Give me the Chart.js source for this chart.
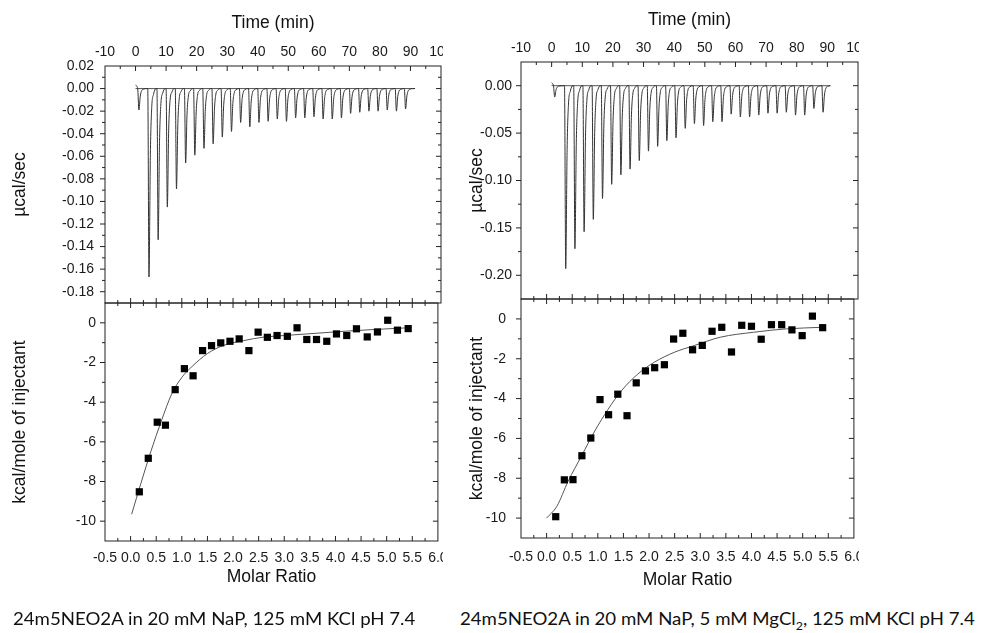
<!DOCTYPE html>
<html>
<head>
<meta charset="utf-8">
<script src="https://cdn.jsdelivr.net/npm/chart.js@4.4.1/dist/chart.umd.min.js"></script>
<style>
  body { margin: 0; background: #fff; width: 984px; height: 633px; overflow: hidden; position: relative; }
  canvas { position: absolute; }
  .cap { position: absolute; white-space: nowrap; font-family: Lato, 'Open Sans', sans-serif; font-size: 18px; color: #111; transform-origin: 0 50%; }
  .cap sub { font-size: 12px; }
</style>
</head>
<body>
<canvas id="lt" width="443" height="304" style="left:0;top:0"></canvas>
<canvas id="lb" width="443" height="297" style="left:0;top:295px"></canvas>
<canvas id="rt" width="413" height="300" style="left:446px;top:0"></canvas>
<canvas id="rb" width="413" height="302" style="left:446px;top:291px"></canvas>
<div class="cap" id="capL" style="left:13px;top:607px">24m5NEO2A in 20 mM NaP, 125 mM KCl pH 7.4</div>
<div class="cap" id="capR" style="left:460px;top:607px">24m5NEO2A in 20 mM NaP, 5 mM MgCl<sub>2</sub>, 125 mM KCl pH 7.4</div>
<script>
// tick labels
const tickTime = [-10, 0, 10, 20, 30, 40, 50, 60, 70, 80, 90, 100];
const tickMolar = [-0.5, 0, 0.5, 1, 1.5, 2, 2.5, 3, 3.5, 4, 4.5, 5, 5.5, 6];
const tickRawL = [0.02, 0, -0.02, -0.04, -0.06, -0.08, -0.1, -0.12, -0.14, -0.16, -0.18];
const tickRawR = [0, -0.05, -0.1, -0.15, -0.2];
const tickHeat = [0, -2, -4, -6, -8, -10];

// left: 20 mM NaP, 125 mM KCl
const injTimeL = [1.1, 4.4, 7.4, 10.4, 13.4, 16.4, 19.4, 22.4, 25.4, 28.4, 31.4, 34.4, 37.4, 40.4, 43.4,
  46.4, 49.4, 52.4, 55.4, 58.4, 61.4, 64.4, 67.4, 70.4, 73.4, 76.4, 79.4, 82.4, 85.4, 88.4];
const peakL = [-0.019, -0.167, -0.134, -0.105, -0.089, -0.066, -0.059, -0.053, -0.049, -0.043, -0.038, -0.030,
  -0.034, -0.030, -0.029, -0.027, -0.029, -0.026, -0.026, -0.025, -0.027, -0.027, -0.026, -0.022, -0.021,
  -0.020, -0.020, -0.019, -0.020, -0.018];
const molarL = [0.17, 0.345, 0.52, 0.68, 0.87, 1.05, 1.22, 1.405, 1.58, 1.76, 1.94, 2.12, 2.31, 2.49, 2.67,
  2.86, 3.06, 3.25, 3.44, 3.63, 3.83, 4.02, 4.22, 4.41, 4.62, 4.82, 5.02, 5.21, 5.42];
const heatL = [-8.52, -6.83, -5.01, -5.16, -3.37, -2.31, -2.67, -1.40, -1.15, -1.01, -0.93, -0.81, -1.40, -0.47,
  -0.73, -0.64, -0.68, -0.25, -0.84, -0.84, -0.93, -0.56, -0.64, -0.30, -0.71, -0.46, 0.13, -0.37, -0.29];
const fitXL = [0.02, 0.2, 0.4, 0.6, 0.8, 1.0, 1.2, 1.5, 1.8, 2.2, 2.6, 3.0, 3.6, 4.2, 4.8, 5.42];
const fitYL = [-9.65, -8.1, -6.45, -4.95, -3.6, -2.75, -2.2, -1.55, -1.15, -0.9, -0.72, -0.64, -0.53, -0.42, -0.33, -0.25];

// right: 20 mM NaP, 5 mM MgCl2, 125 mM KCl
const injTimeR = [1.0, 4.6, 7.6, 10.6, 13.6, 16.6, 19.6, 22.6, 25.6, 28.6, 31.6, 34.6, 37.6, 40.6, 43.6,
  46.6, 49.6, 52.6, 55.6, 58.6, 61.6, 64.6, 67.6, 70.6, 73.6, 76.6, 79.6, 82.6, 85.6, 88.6];
const peakR = [-0.012, -0.193, -0.172, -0.154, -0.141, -0.119, -0.104, -0.094, -0.088, -0.079, -0.069, -0.064,
  -0.058, -0.055, -0.045, -0.040, -0.042, -0.038, -0.038, -0.030, -0.033, -0.033, -0.031, -0.029, -0.029,
  -0.028, -0.031, -0.031, -0.024, -0.028];
const molarR = [0.178, 0.346, 0.515, 0.689, 0.863, 1.043, 1.21, 1.39, 1.57, 1.75, 1.93, 2.11, 2.30, 2.48, 2.66,
  2.85, 3.04, 3.23, 3.42, 3.61, 3.81, 4.0, 4.19, 4.39, 4.59, 4.79, 4.99, 5.19, 5.39];
const heatR = [-9.93, -8.08, -8.07, -6.87, -5.98, -4.05, -4.81, -3.78, -4.86, -3.21, -2.61, -2.45, -2.30, -1.01,
  -0.72, -1.55, -1.33, -0.62, -0.42, -1.66, -0.32, -0.37, -1.02, -0.29, -0.29, -0.55, -0.84, 0.14, -0.44];
const fitXR = [0.0, 0.2, 0.42, 0.68, 0.94, 1.2, 1.46, 1.78, 2.1, 2.49, 2.88, 3.39, 4.04, 4.68, 5.39];
const fitYR = [-10.0, -9.41, -8.15, -6.89, -5.63, -4.54, -3.61, -2.77, -2.18, -1.68, -1.34, -0.92, -0.67, -0.50, -0.42];

// shape of one injection spike relative to its peak (min after injection, fraction of peak)
const spikeDt = [-0.4, 0, 0.45, 0.9, 1.5, 2.3];
const spikeFrac = [0, 1, 0.35, 0.1, 0.03, 0];

Chart.defaults.font.family = "'Liberation Sans', Arial, sans-serif";
Chart.defaults.color = '#1a1a1a';

function trace(times, peaks, tEnd) {
  const pts = [{ x: 0, y: 0.003 }];
  times.forEach((t, i) => {
    spikeDt.forEach((dt, j) => pts.push({ x: t + dt, y: peaks[i] * spikeFrac[j] }));
  });
  pts.push({ x: tEnd, y: 0 });
  return pts;
}

function marks(values) {
  const step = values[1] - values[0];
  const out = values.map(v => [v, true]);
  for (let i = -1; i < values.length; i++) out.push([values[0] + (i + 0.5) * step, false]);
  return out;
}

// box round the plot + inward/outward tick marks
const framePlugin = {
  id: 'frame',
  afterDatasetsDraw(chart, args, o) {
    const { ctx, chartArea: a } = chart;
    const xs = chart.scales.x, ys = chart.scales.y;
    ctx.save();
    ctx.strokeStyle = '#222';
    ctx.lineWidth = 1;
    ctx.strokeRect(a.left, a.top, a.right - a.left, a.bottom - a.top);
    ctx.beginPath();
    marks(o.xTicks).forEach(([v, major]) => {
      const px = xs.getPixelForValue(v), len = major ? 5 : 3;
      if (px <= a.left + 0.5 || px >= a.right - 0.5) return;
      if (o.top === 'in' || o.top === 'cross') { ctx.moveTo(px, a.top + len); ctx.lineTo(px, o.top === 'cross' ? a.top - len : a.top); }
      if (o.bottom === 'in') { ctx.moveTo(px, a.bottom - len); ctx.lineTo(px, a.bottom); }
    });
    marks(o.yTicks).forEach(([v, major]) => {
      const py = ys.getPixelForValue(v), len = major ? 5 : 3;
      if (py <= a.top + 0.5 || py >= a.bottom - 0.5) return;
      ctx.moveTo(a.left - len, py); ctx.lineTo(a.left, py);
      ctx.moveTo(a.right - len, py); ctx.lineTo(a.right, py);
    });
    ctx.stroke();
    ctx.restore();
  }
};

function axis(pos, min, max, values, fmt, pad, size, title, titlePad) {
  return {
    type: 'linear', position: pos, min: min, max: max,
    grid: { display: false, drawTicks: false }, border: { display: false },
    ticks: { padding: pad, autoSkip: false, maxRotation: 0, minRotation: 0, font: { size: 14 }, color: '#1a1a1a', callback: fmt },
    afterBuildTicks: s => { s.ticks = values.map(v => ({ value: v })); },
    afterFit: s => {
      if (s.isHorizontal()) s.height = size; else s.width = size;
      s.paddingLeft = s.paddingRight = s.paddingTop = s.paddingBottom = 0;
    },
    title: { display: true, text: title, color: '#111', font: { size: 17.5 }, padding: titlePad }
  };
}

const fmt2 = v => (Math.abs(v) < 1e-9 ? 0 : v).toFixed(2);
const fmtInt = v => String(Math.round(v));
const fmt1 = v => (Math.abs(v) < 1e-9 ? 0 : v).toFixed(1);

function rawChart(id, times, peaks, tEnd, yMin, yMax, yTicks, lay) {
  new Chart(document.getElementById(id), {
    type: 'scatter',
    data: {
      datasets: [
        { data: trace(times, peaks, tEnd), showLine: true, pointRadius: 0, borderColor: '#333', borderWidth: 1, cubicInterpolationMode: 'monotone' },
        { data: [{ x: 0, y: 0 }, { x: tEnd, y: 0 }], showLine: true, pointRadius: 0, borderColor: '#555', borderWidth: 1 }
      ]
    },
    options: {
      responsive: false, animation: false,
      layout: { padding: { left: 0, top: 0, right: lay.right, bottom: 1 } },
      plugins: { legend: { display: false }, tooltip: { enabled: false },
        frame: { xTicks: tickTime, yTicks: yTicks, top: 'in', bottom: 'none' } },
      scales: {
        x: axis('top', -10, 100, tickTime, fmtInt, lay.xPad, lay.xSize, 'Time (min)', { top: lay.xTitle, bottom: 0 }),
        y: axis('left', yMin, yMax, yTicks, fmt2, lay.yPad, lay.ySize, 'µcal/sec', { top: lay.yTitle, bottom: 0 })
      }
    },
    plugins: [framePlugin]
  });
}

function heatChart(id, molar, heat, fitX, fitY, lay) {
  new Chart(document.getElementById(id), {
    type: 'scatter',
    data: {
      datasets: [
        { data: molar.map((x, i) => ({ x: x, y: heat[i] })), pointStyle: 'rect', pointRadius: 5.1, backgroundColor: '#000', borderWidth: 0 },
        { data: fitX.map((x, i) => ({ x: x, y: fitY[i] })), showLine: true, pointRadius: 0, borderColor: '#555', borderWidth: 1, cubicInterpolationMode: 'monotone' }
      ]
    },
    options: {
      responsive: false, animation: false,
      layout: { padding: { left: 0, top: 8, right: lay.right, bottom: 1 } },
      plugins: { legend: { display: false }, tooltip: { enabled: false },
        frame: { xTicks: tickMolar, yTicks: tickHeat, top: 'cross', bottom: 'in' } },
      scales: {
        x: axis('bottom', -0.5, 6, tickMolar, fmt1, lay.xPad, lay.xSize, 'Molar Ratio', { top: 0, bottom: lay.xTitle }),
        y: axis('left', -11, 1, tickHeat, fmtInt, lay.yPad, lay.ySize, 'kcal/mole of injectant', { top: lay.yTitle, bottom: 0 })
      }
    },
    plugins: [framePlugin]
  });
}

rawChart('lt', injTimeL, peakL, 91.5, -0.19, 0.02, tickRawL, { right: 2, xPad: 5, xSize: 66, xTitle: 12.5, yPad: 11, ySize: 105, yTitle: 9.5 });
heatChart('lb', molarL, heatL, fitXL, fitYL, { right: 2, xPad: 9, xSize: 50, xTitle: 3.5, yPad: 9, ySize: 105, yTitle: 9.5 });
rawChart('rt', injTimeR, peakR, 91, -0.225, 0.025, tickRawR, { right: 1, xPad: 5.3, xSize: 62, xTitle: 9.5, yPad: 9, ySize: 75, yTitle: 20.5 });
heatChart('rb', molarR, heatR, fitXR, fitYR, { right: 1, xPad: 10.3, xSize: 54, xTitle: 1.5, yPad: 15, ySize: 75, yTitle: 20.5 });

// captions: one common squeeze so the pair spans 13..975 with a gap between them
const capL = document.getElementById('capL');
const capR = document.getElementById('capR');
const wL = capL.getBoundingClientRect().width, wR = capR.getBoundingClientRect().width;
const sq = (975 - 13 - 45) / (wL + wR);
capL.style.transform = capR.style.transform = 'scaleX(' + sq + ')';
capR.style.left = (975 - sq * wR) + 'px';
</script>
</body>
</html>
